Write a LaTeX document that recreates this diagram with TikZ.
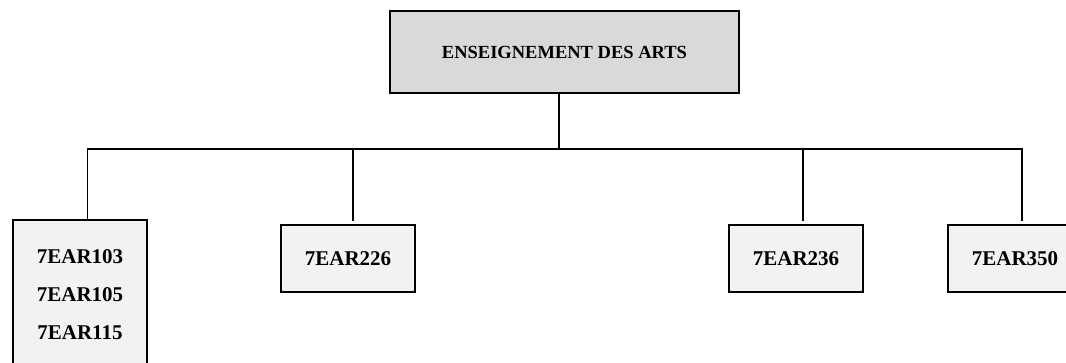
\documentclass[tikz,border=0pt]{standalone}
\usepackage{fontspec}
\setmainfont{Liberation Serif}
\definecolor{topfill}{HTML}{D9D9D9}
\definecolor{leaffill}{HTML}{F2F2F2}
\tikzset{
  rootbox/.style={draw=black, line width=1.6pt, fill=topfill, inner sep=0pt,
    font=\bfseries\fontsize{18.5}{22}\selectfont},
  leafbox/.style={draw=black, line width=1.6pt, fill=leaffill, inner sep=0pt,
    minimum width=134pt, align=center, font=\bfseries\fontsize{21}{38}\selectfont},
  conn/.style={line width=1.4pt, line cap=rect}
}
\begin{document}
\begin{tikzpicture}[x=1pt,y=-1pt]
\useasboundingbox (0,0) rectangle (1066,363);
\node[rootbox, minimum width=349pt, minimum height=82pt] (root) at (564.5,52) {ENSEIGNEMENT DES ARTS};
\node[leafbox, minimum height=150pt] (c1) at (80,295) {7EAR103\\7EAR105\\7EAR115};
\node[leafbox, minimum height=67pt] (c2) at (348,258.5) {7EAR226};
\node[leafbox, minimum height=67pt] (c3) at (796,258.5) {7EAR236};
\node[leafbox, minimum height=67pt] (c4) at (1015,258.5) {7EAR350};
\coordinate (tj) at (559,149);
\coordinate (j1) at (87.5,149);
\coordinate (j2) at (353,149);
\coordinate (j3) at (803,149);
\coordinate (j4) at (1022,149);
\draw[conn] (root.south -| tj) -- (tj);
\draw[conn] (j1) -- (j4);
\draw[conn] (j1) -- (c1.north -| j1);
\draw[conn] (j2) -- ([yshift=4pt]c2.north -| j2);
\draw[conn] (j3) -- ([yshift=4pt]c3.north -| j3);
\draw[conn] (j4) -- ([yshift=4pt]c4.north -| j4);
\end{tikzpicture}
\end{document}
